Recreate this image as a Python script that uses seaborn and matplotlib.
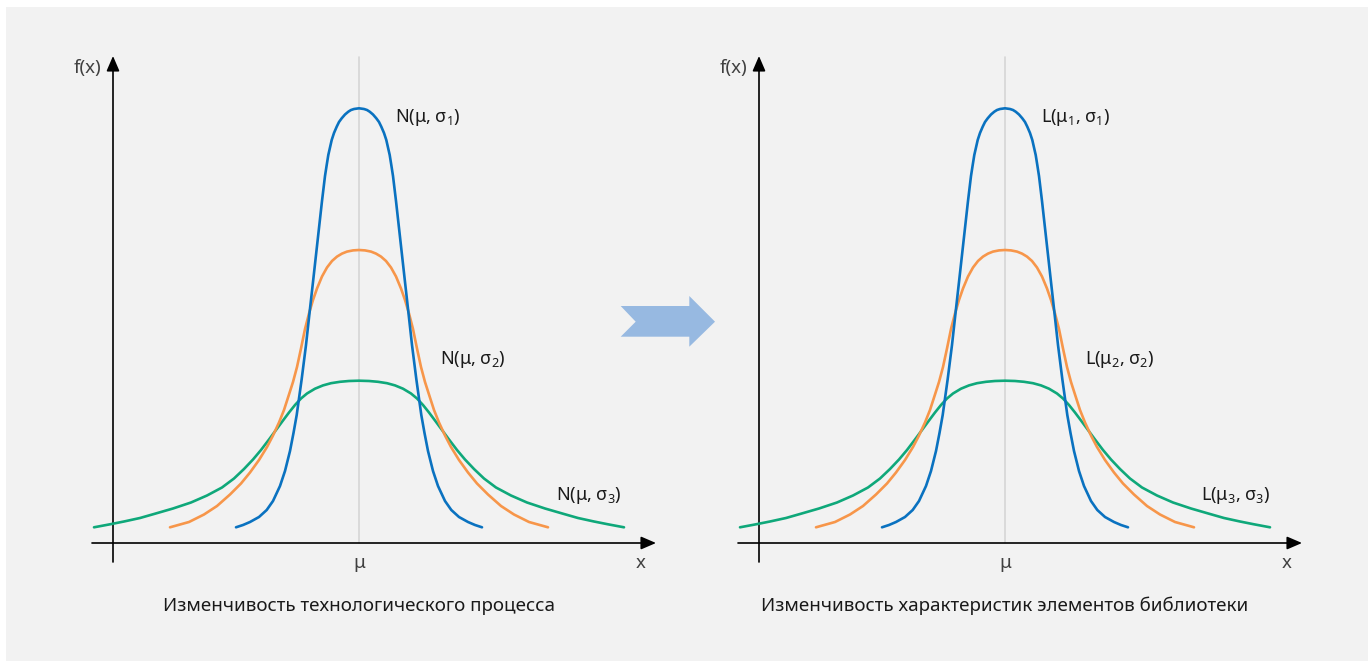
import matplotlib
matplotlib.use("Agg")
import matplotlib.pyplot as plt
from matplotlib.patches import Rectangle, Polygon
import seaborn as sns

# ---------------- data (x = offset from mu, y = height above x-axis) ----
blue_x = [-123, -116, -109, -100, -92.3, -86, -79, -74, -69, -65.5, -62.3, -57.3, -53, -49.7, -46,
          -43, -40, -37, -34, -32.3, -30.7, -27.3, -25, -22.3, -20, -17.3, -14, -10.7, -8, -5, 0,
          5, 8, 10.7, 14, 17.3, 20, 22.3, 25, 27.3, 30.7, 32.3, 34, 37, 40, 43,
          46, 49.7, 53, 57.3, 62.3, 65.5, 69, 74, 79, 86, 92.3, 100, 109, 116, 123]
blue_y = [15.7, 18, 21, 26, 33, 42, 57, 72, 92, 110, 128, 164, 198, 228, 261,
          288, 315, 342, 367, 378, 388, 403, 410, 416.3, 421, 424.7, 428.5, 431.3, 433, 434, 434.7,
          434, 433, 431.3, 428.5, 424.7, 421, 416.3, 410, 403, 388, 378, 367, 342, 315, 288,
          261, 228, 198, 164, 128, 110, 92, 72, 57, 42, 33, 26, 21, 18, 15.7]

orange_x = [-189, -170, -155, -142, -129, -118, -109, -100, -92, -86, -80, -75, -70, -66, -62,
            -58, -54, -50, -46, -42, -37, -32, -27, -22, -17, -12, -6, 0,
            6, 12, 17, 22, 27, 32, 37, 42, 46, 50, 54, 58,
            62, 66, 70, 75, 80, 86, 92, 100, 109, 118, 129, 142, 155, 170, 189]
orange_y = [15.7, 21, 28.5, 37, 48.5, 59.5, 70.5, 83, 96, 107.5, 120.5, 133, 148.5, 161, 176,
            194.5, 214, 229.5, 243, 254.5, 266.5, 275.5, 282, 286.4, 289.4, 291.4, 292.6, 293,
            292.6, 291.4, 289.4, 286.4, 282, 275.5, 266.5, 254.5, 243, 229.5, 214, 194.5,
            176, 161, 148.5, 133, 120.5, 107.5, 96, 83, 70.5, 59.5, 48.5, 37, 28.5, 21, 15.7]

green_x = [-265, -249, -235, -219, -205, -186, -168, -152, -137, -125, -115, -106, -98, -90, -83,
           -76, -70, -64, -58, -52, -44, -36, -28, -19, -10, 0,
           10, 19, 28, 36, 44, 52, 58, 64, 70, 76,
           83, 90, 98, 106, 115, 125, 137, 152, 168, 186, 205, 219, 235, 249, 265]
green_y = [15.7, 18.7, 21.5, 25, 29, 34.5, 40.5, 47.5, 55.5, 64.5, 74, 83.5, 93, 103.5, 113,
           122.5, 130.5, 138, 144.5, 149.5, 154.3, 157.6, 159.8, 161.2, 162, 162.3,
           162, 161.2, 159.8, 157.6, 154.3, 149.5, 144.5, 138, 130.5, 122.5,
           113, 103.5, 93, 83.5, 74, 64.5, 55.5, 47.5, 40.5, 34.5, 29, 25, 21.5, 18.7, 15.7]

left_labels = ["N(μ, σ$_1$)", "N(μ, σ$_2$)", "N(μ, σ$_3$)"]
right_labels = ["L(μ$_1$, σ$_1$)", "L(μ$_2$, σ$_2$)", "L(μ$_3$, σ$_3$)"]
titles = ["Изменчивость технологического процесса",
          "Изменчивость характеристик элементов библиотеки"]

# ---------------- style ----------------
sns.set_style("white")
FONT = "Noto Sans"
plt.rcParams["font.family"] = [FONT, "DejaVu Sans"]
plt.rcParams["mathtext.fontset"] = "custom"
plt.rcParams["mathtext.rm"] = FONT
plt.rcParams["mathtext.it"] = FONT
plt.rcParams["mathtext.bf"] = FONT
plt.rcParams["mathtext.default"] = "regular"

BLUE = "#0a72c0"
ORANGE = "#f7964a"
GREEN = "#0fa87a"
BG = "#f2f2f2"
TXT = "#1a1a1a"
AXT = "#404040"

W, H = 1368, 661
fig = plt.figure(figsize=(W / 100, H / 100), dpi=100, facecolor="white")
fig.patches.append(Rectangle((6 / W, 0), 1 - 6 / W, 1 - 7 / H, transform=fig.transFigure,
                             facecolor=BG, edgecolor="none", zorder=-10))

# central arrow (figure pixel coordinates)
arrow_px = [(620.7, 306), (689.3, 306), (689.3, 296), (715, 321.7), (689.3, 346.7),
            (689.3, 336.7), (620.7, 336.7), (635.7, 321.7)]
fig.patches.append(Polygon([(x / W, 1 - y / H) for x, y in arrow_px], closed=True,
                           transform=fig.transFigure, facecolor="#97b9e1", edgecolor="none", zorder=-5))

AX_X0, AX_X1 = -319, 321
AX_Y0, AX_Y1 = -97, 513


def make_panel(mu_px, labels, label_pos, title):
    left_px = mu_px + AX_X0
    width_px = AX_X1 - AX_X0
    bottom_px = 543 + (-AX_Y0)  # pixel y of bottom
    ax = fig.add_axes([left_px / W, 1 - bottom_px / H, width_px / W, (AX_Y1 - AX_Y0) / H])
    ax.set_xlim(AX_X0, AX_X1)
    ax.set_ylim(AX_Y0, AX_Y1)
    ax.set_axis_off()
    ax.patch.set_alpha(0)

    # mu guide line
    ax.plot([0, 0], [0, 486], color="#d6d6d6", lw=1.2, zorder=1)

    # axes with arrows
    arr = dict(arrowstyle="-|>,head_length=0.65,head_width=0.28", color="black", lw=1.2,
               shrinkA=0, shrinkB=0, mutation_scale=14)
    ax.annotate("", xy=(297, 0), xytext=(-267, 0), arrowprops=arr, zorder=3)
    ax.annotate("", xy=(-246, 487), xytext=(-246, -19), arrowprops=arr, zorder=3)

    for xs, ys, c in [(green_x, green_y, GREEN), (orange_x, orange_y, ORANGE), (blue_x, blue_y, BLUE)]:
        sns.lineplot(x=xs, y=ys, ax=ax, color=c, lw=1.9, estimator=None, zorder=4)

    for lab, (lx, ly) in zip(labels, label_pos):
        ax.text(lx, ly, lab, fontsize=13, color=TXT, ha="left", va="center")

    ax.text(-258, 475, "f(x)", fontsize=13.5, color=AXT, ha="right", va="center")
    ax.text(0, -20, "μ", fontsize=13.5, color=AXT, ha="center", va="center")
    ax.text(282, -20, "x", fontsize=13.5, color=AXT, ha="center", va="center")
    ax.text(0, -63, title, fontsize=13.5, color=TXT, ha="center", va="center")
    return ax


make_panel(359, left_labels, [(36, 426), (81, 183), (197, 48)], titles[0])
make_panel(1005, right_labels, [(36, 426), (80, 183), (196, 48)], titles[1])

fig.savefig("out.png", dpi=100, facecolor=fig.get_facecolor())
